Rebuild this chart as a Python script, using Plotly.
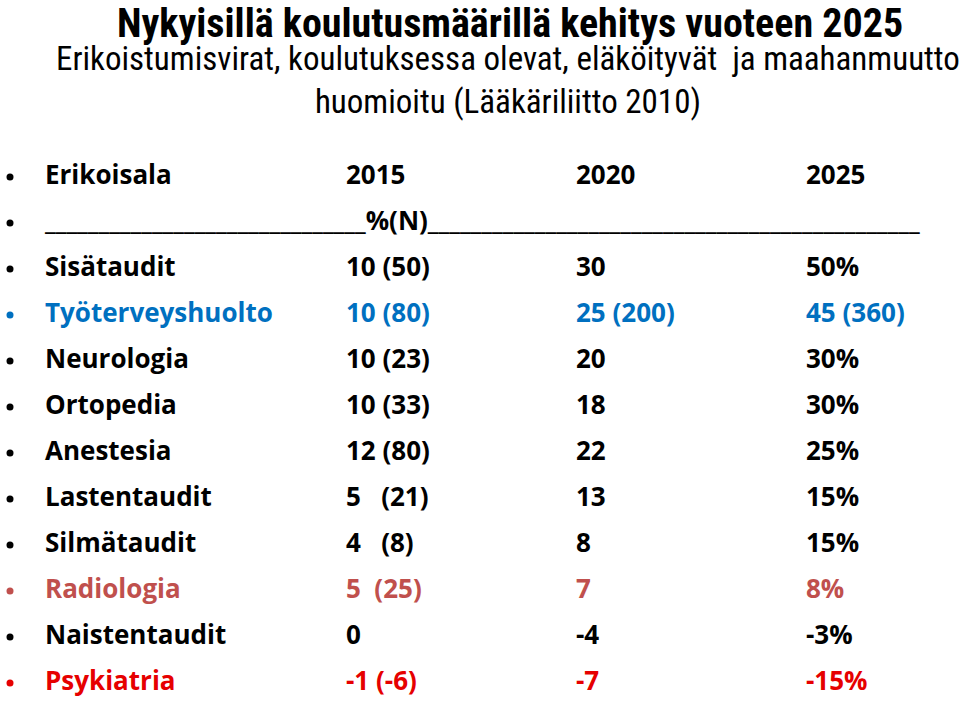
import plotly.graph_objects as go

title = "Nykyisillä koulutusmäärillä kehitys vuoteen 2025"
subtitle = "Erikoistumisvirat, koulutuksessa olevat, eläköityvät  ja maahanmuutto<br>huomioitu (Lääkäriliitto 2010)"

header = ["Erikoisala", "2015", "2020", "2025"]
unit_row = "%(N)"
specialties = ["Sisätaudit", "Työterveyshuolto", "Neurologia", "Ortopedia", "Anestesia",
               "Lastentaudit", "Silmätaudit", "Radiologia", "Naistentaudit", "Psykiatria"]
v2015 = ["10 (50)", "10 (80)", "10 (23)", "10 (33)", "12 (80)", "5   (21)", "4   (8)", "5  (25)", "0", "-1 (-6)"]
v2020 = ["30", "25 (200)", "20", "18", "22", "13", "8", "7", "-4", "-7"]
v2025 = ["50%", "45 (360)", "30%", "30%", "25%", "15%", "15%", "8%", "-3%", "-15%"]
row_colors = ["#000000", "#0070C0", "#000000", "#000000", "#000000",
              "#000000", "#000000", "#C0504D", "#000000", "#E60000"]

# layout constants (pixel-like axes)
W, H = 959, 702
Y0, DY = 177, 46
XB, XL, X1, X2, X3 = 10, 45, 346, 576, 806
FONT = "Open Sans, Noto Sans, sans-serif"
FS = 26
TFONT = "Liberation Sans Narrow, Roboto Condensed, sans-serif"

n = len(specialties)
rows_y = [Y0 + DY * (i + 2) for i in range(n)]
all_y = [Y0, Y0 + DY] + rows_y
all_colors = ["#000000", "#000000"] + row_colors

fig = go.Figure()

# bullets
fig.add_trace(go.Scatter(x=[XB] * len(all_y), y=all_y, mode="markers",
                         marker=dict(symbol="circle", size=7, color=all_colors),
                         hoverinfo="skip", showlegend=False))

# header row
for xpos, txt in zip([XL, X1, X2, X3], header):
    fig.add_trace(go.Scatter(x=[xpos], y=[Y0], mode="text", text=[f"<b>{txt}</b>"],
                             textposition="middle right",
                             textfont=dict(family=FONT, size=FS, color="#000000"),
                             hoverinfo="skip", showlegend=False))

# unit row with underscores
fig.add_trace(go.Scatter(x=[XL], y=[Y0 + DY], mode="text",
                         text=["<b>" + "_" * 30 + unit_row + "_" * 46 + "</b>"],
                         textposition="middle right",
                         textfont=dict(family=FONT, size=FS, color="#000000"),
                         hoverinfo="skip", showlegend=False))

# table body
for xpos, col in zip([XL, X1, X2, X3], [specialties, v2015, v2020, v2025]):
    fig.add_trace(go.Scatter(x=[xpos] * n, y=rows_y, mode="text",
                             text=[f"<b>{t}</b>" for t in col],
                             textposition="middle right",
                             textfont=dict(family=FONT, size=FS, color=row_colors),
                             hoverinfo="skip", showlegend=False))

fig.add_annotation(x=0.532, y=1.0, yshift=2, xref="paper", yref="paper", text=f"<b>{title}</b>",
                   showarrow=False, xanchor="center", yanchor="top",
                   font=dict(family=TFONT, size=40, color="#000000"))
fig.add_annotation(x=0.53, y=1 - 37 / H, xref="paper", yref="paper", text=subtitle,
                   showarrow=False, xanchor="center", yanchor="top", align="center",
                   font=dict(family=TFONT, size=33, color="#000000"))

fig.update_layout(width=W, height=H, margin=dict(l=0, r=0, t=0, b=0),
                  paper_bgcolor="white", plot_bgcolor="white",
                  xaxis=dict(range=[0, W], visible=False, fixedrange=True),
                  yaxis=dict(range=[H, 0], visible=False, fixedrange=True))

fig.write_html("out.html", config={"displayModeBar": False},
               post_script="document.body.style.margin='0';")
